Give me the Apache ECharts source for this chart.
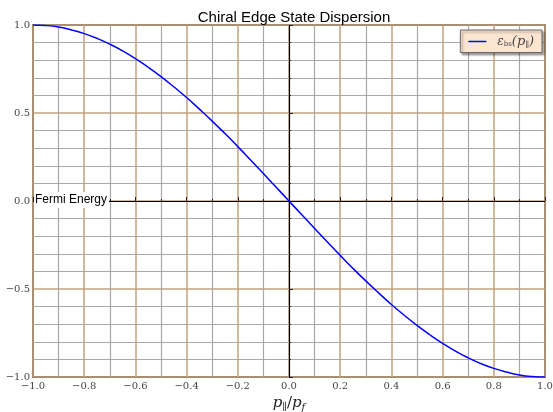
<!DOCTYPE html>
<html>
<head>
<meta charset="utf-8">
<script src="https://cdn.jsdelivr.net/npm/echarts@6/dist/echarts.min.js"></script>
<style>
  html, body { margin: 0; padding: 0; background: #fff; }
  #chart { width: 553px; height: 412px; }
</style>
</head>
<body>
<div id="chart"></div>
<script>
// p_par / p_f
const momentum = [-1.0, -0.95, -0.9, -0.85, -0.8, -0.75, -0.7, -0.65, -0.6, -0.55, -0.5,
    -0.45, -0.4, -0.35, -0.3, -0.25, -0.2, -0.15, -0.1, -0.05, 0.0,
    0.05, 0.1, 0.15, 0.2, 0.25, 0.3, 0.35, 0.4, 0.45, 0.5,
    0.55, 0.6, 0.65, 0.7, 0.75, 0.8, 0.85, 0.9, 0.95, 1.0];
// edge state energy
const energy = [1.0, 0.997, 0.988, 0.972, 0.951, 0.924, 0.891, 0.853, 0.809, 0.760, 0.707,
    0.649, 0.588, 0.522, 0.454, 0.383, 0.309, 0.233, 0.156, 0.078, 0.0,
    -0.078, -0.156, -0.233, -0.309, -0.383, -0.454, -0.522, -0.588, -0.649, -0.707,
    -0.760, -0.809, -0.853, -0.891, -0.924, -0.951, -0.972, -0.988, -0.997, -1.0];

const serif = "'DejaVu Serif', 'Liberation Serif', serif";
const fmt = v => (v < 0 ? "\u2212" : "") + Math.abs(v).toFixed(1);

const chart = echarts.init(document.getElementById("chart"));

const axisCommon = {
    type: "value",
    min: -1,
    max: 1,
    axisLine: { show: false },
    axisTick: { show: true, inside: true, length: 4, lineStyle: { color: "#222" } },
    minorTick: { show: true, inside: true, length: 2, lineStyle: { color: "#222" } },
    axisLabel: { fontFamily: serif, fontSize: 10, color: "#444", formatter: fmt },
    splitLine: { show: true, lineStyle: { color: "#c4a17c", width: 1.5 } },
    minorSplitLine: { show: true, lineStyle: { color: "#a8a8a8", width: 1.2 } },
};

chart.setOption({
    animation: false,
    title: {
        text: "Chiral Edge State Dispersion",
        left: 289,
        textAlign: "center",
        top: 5,
        textStyle: { fontFamily: "'Liberation Sans', Arial, sans-serif", fontSize: 15, fontWeight: "normal", color: "#000" },
    },
    grid: {
        left: 33, right: 8, top: 25, bottom: 35,
        outerBoundsMode: "none",
        containLabel: false,
        show: true,
        borderColor: "#2a2218",
        borderWidth: 1.5,
        backgroundColor: "#fff",
    },
    legend: {
        right: 11,
        top: 30,
        padding: [5, 8, 4, 8],
        backgroundColor: "#fce6d2",
        borderColor: "#666",
        borderWidth: 1,
        borderRadius: 0,
        shadowColor: "rgba(0,0,0,0.35)",
        shadowBlur: 2,
        shadowOffsetX: 2,
        shadowOffsetY: 2,
        icon: "rect",
        itemWidth: 18,
        itemHeight: 1.5,
        itemGap: 8,
        formatter: () => "{e|ε}{s|bs}{p|(p}{s2|∥}{p|)}",
        textStyle: {
            padding: [0, 0, 0, 6],
            rich: {
                e: { fontFamily: serif, fontStyle: "italic", fontSize: 12, color: "#444" },
                s: { fontFamily: serif, fontSize: 7, color: "#444", padding: [5, 0, 0, 0] },
                p: { fontFamily: serif, fontStyle: "italic", fontSize: 13, color: "#444" },
                s2: { fontFamily: serif, fontSize: 8, color: "#444", padding: [6, 0, 0, 0] },
            },
        },
    },
    xAxis: Object.assign({}, axisCommon, {
        interval: 0.2,
        minorTick: Object.assign({}, axisCommon.minorTick, { splitNumber: 2 }),
        axisLabel: Object.assign({}, axisCommon.axisLabel, { margin: 4 }),
        name: "{i|p}{s|∥}{n|/}{i|p}{s|f}",
        nameLocation: "middle",
        nameGap: 17,
        nameTextStyle: {
            rich: {
                i: { fontFamily: serif, fontStyle: "italic", fontSize: 15, color: "#222" },
                n: { fontFamily: serif, fontSize: 15, color: "#222" },
                s: { fontFamily: serif, fontStyle: "italic", fontSize: 10, color: "#222", padding: [8, 0, 0, 0] },
            },
        },
    }),
    yAxis: Object.assign({}, axisCommon, {
        interval: 0.5,
        minorTick: Object.assign({}, axisCommon.minorTick, { splitNumber: 5 }),
        axisLabel: Object.assign({}, axisCommon.axisLabel, { margin: 3 }),
    }),
    series: [{
        name: "edge",
        type: "line",
        data: momentum.map((x, i) => [x, energy[i]]),
        symbol: "none",
        showSymbol: false,
        smooth: true,
        lineStyle: { color: "#0000ff", width: 1.5 },
        itemStyle: { color: "#0000ff" },
        z: 5,
        markLine: {
            silent: true,
            symbol: "none",
            label: { show: false },
            lineStyle: { color: "#000", width: 1.2, type: "solid" },
            data: [{ yAxis: 0 }, { xAxis: 0 }],
            z: 4,
        },
    }],
});

const origin = chart.convertToPixel({ gridIndex: 0 }, [-1, 0]);
chart.setOption({
    graphic: [{
        type: "text",
        z: 100,
        left: origin[0] + 1,
        top: origin[1] - 9,
        style: {
            text: "Fermi Energy",
            fontFamily: "'Liberation Sans', Arial, sans-serif",
            fontSize: 12,
            fill: "#000",
            backgroundColor: "#fff",
            padding: [2, 2, 2, 1],
        },
    }],
});

window.addEventListener("resize", () => chart.resize());
</script>
</body>
</html>
